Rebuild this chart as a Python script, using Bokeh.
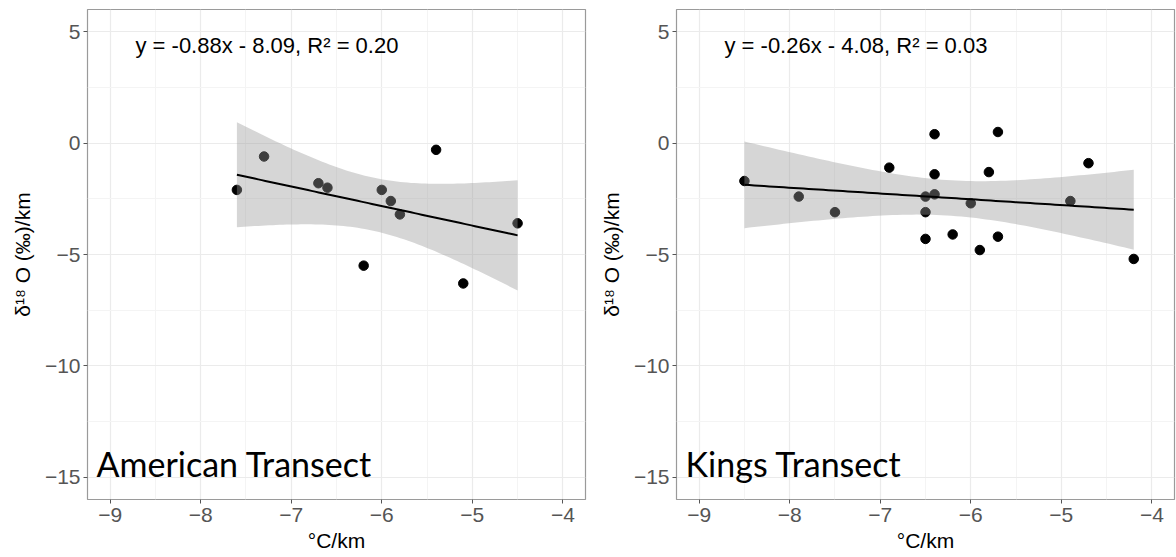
import numpy as np
from bokeh.plotting import figure
from bokeh.layouts import row
from bokeh.models import FixedTicker, Range1d, Label, ColumnDataSource
from bokeh.embed import file_html
from bokeh.resources import INLINE

# ---- data ----
american_x = [-7.6, -7.3, -6.7, -6.6, -6.0, -5.9, -5.8, -5.4, -4.5, -6.2, -5.1]
american_y = [-2.1, -0.6, -1.8, -2.0, -2.1, -2.6, -3.2, -0.3, -3.6, -5.5, -6.3]

kings_x = [-8.5, -7.9, -7.5, -6.9, -6.4, -6.4, -6.4, -6.5, -6.5, -6.5,
           -6.2, -6.0, -5.9, -5.8, -5.7, -5.7, -4.9, -4.7, -4.2]
kings_y = [-1.7, -2.4, -3.1, -1.1, 0.4, -1.4, -2.3, -2.4, -3.1, -4.3,
           -4.1, -2.7, -4.8, -1.3, 0.5, -4.2, -2.6, -0.9, -5.2]

x_ticks = [-9, -8, -7, -6, -5, -4]
x_minor = [-8.5, -7.5, -6.5, -5.5, -4.5]
y_ticks = [5, 0, -5, -10, -15]
y_minor = [2.5, -2.5, -7.5, -12.5]

american_eq = "y = -0.88x - 8.09, R\u00b2 = 0.20"
kings_eq = "y = -0.26x - 4.08, R\u00b2 = 0.03"
american_title = "American Transect"
kings_title = "Kings Transect"

# t quantiles (0.975) for df = n - 2
T975 = {9: 2.262, 17: 2.110}

TICK_FONT = "Liberation Sans"


def lm_band(xs, ys):
    x = np.asarray(xs, float)
    y = np.asarray(ys, float)
    n = len(x)
    b, a = np.polyfit(x, y, 1)
    resid = y - (a + b * x)
    s = np.sqrt(np.sum(resid ** 2) / (n - 2))
    xm = x.mean()
    sxx = np.sum((x - xm) ** 2)
    gx = np.linspace(x.min(), x.max(), 80)
    gy = a + b * gx
    se = s * np.sqrt(1.0 / n + (gx - xm) ** 2 / sxx)
    t = T975[n - 2]
    return gx, gy, gy - t * se, gy + t * se


def make_panel(xs, ys, eq, title, left, right):
    p = figure(width=588, height=557, output_backend="svg", toolbar_location=None,
               x_range=Range1d(-9.25, -3.75), y_range=Range1d(-16, 6),
               min_border_left=left, min_border_right=right,
               min_border_top=9, min_border_bottom=58)
    p.background_fill_color = "white"
    p.border_fill_color = "white"
    p.outline_line_color = "#9a9a9a"
    p.outline_line_width = 1.2

    p.xaxis.ticker = FixedTicker(ticks=x_ticks, minor_ticks=x_minor)
    p.yaxis.ticker = FixedTicker(ticks=y_ticks, minor_ticks=y_minor)
    for ax in (p.xaxis, p.yaxis):
        ax.axis_line_color = None
        ax.minor_tick_line_color = None
        ax.major_tick_line_color = "#555555"
        ax.major_tick_in = 0
        ax.major_tick_out = 4
        ax.major_label_text_font = TICK_FONT
        ax.major_label_text_font_size = "21px"
        ax.major_label_text_color = "#555555"
        ax.axis_label_text_font = TICK_FONT
        ax.axis_label_text_font_size = "21px"
        ax.axis_label_text_font_style = "normal"
        ax.axis_label_text_color = "black"
    p.xaxis.axis_label = "\u00b0C/km"
    p.yaxis.axis_label = "\u03b4\u00b9\u2078 O (\u2030)/km"
    p.xaxis.major_label_standoff = 4
    p.xaxis.axis_label_standoff = 4
    p.yaxis.major_label_standoff = 3
    p.yaxis.axis_label_standoff = 8

    for g in (p.xgrid, p.ygrid):
        g.grid_line_color = "#ebebeb"
        g.grid_line_width = 1.2
        g.minor_grid_line_color = "#f4f4f4"
        g.minor_grid_line_width = 1

    p.scatter(xs, ys, size=9.5, color="black")

    gx, gy, lo, hi = lm_band(xs, ys)
    src = ColumnDataSource(dict(x=gx, y=gy, lo=lo, hi=hi))
    p.varea(x="x", y1="lo", y2="hi", source=src, fill_color="#999999", fill_alpha=0.4)
    p.line(x="x", y="y", source=src, line_color="black", line_width=2)

    p.add_layout(Label(x=-8.72, y=4.38, text=eq, text_font=TICK_FONT,
                       text_font_size="22px", text_color="black",
                       text_baseline="middle", text_align="left"))
    p.add_layout(Label(x=-9.15, y=-14.39, text=title, text_font="Lato",
                       text_font_size="34px", text_color="black",
                       text_baseline="alphabetic", text_align="left"))
    return p


p1 = make_panel(american_x, american_y, american_eq, american_title, 87, 3)
p2 = make_panel(kings_x, kings_y, kings_eq, kings_title, 88, 2)

layout = row(p1, p2)
open("out.html", "w").write(file_html(layout, INLINE))
